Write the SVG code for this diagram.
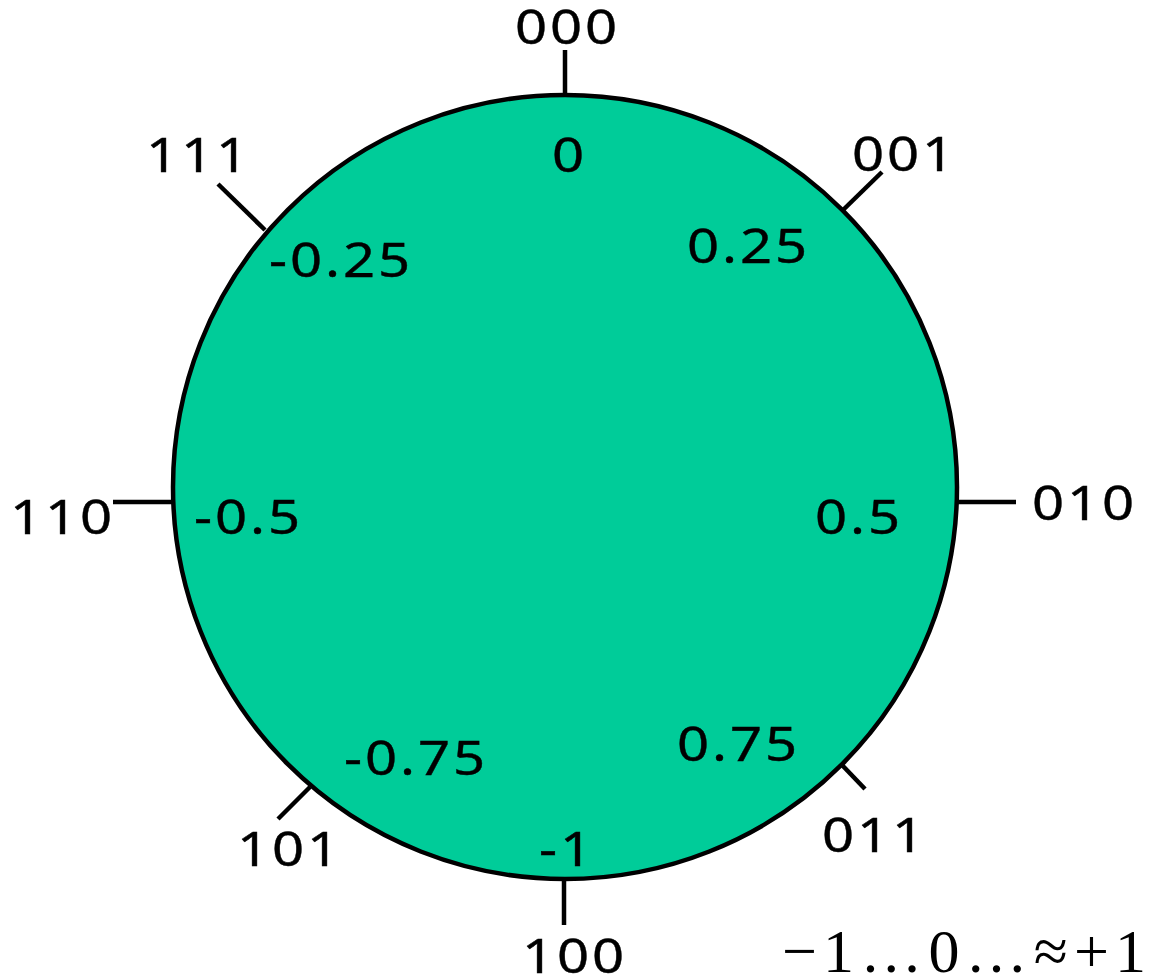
<svg xmlns="http://www.w3.org/2000/svg" width="1156" height="979" viewBox="0 0 1156 979">
<style>
.t{font-family:"Noto Sans","Open Sans",sans-serif;font-size:48px;fill:#000;letter-spacing:2.5px;stroke:#000;stroke-width:0.4}
.k{stroke:#000;stroke-width:4.5;fill:none}
.m{font-family:"Liberation Serif","Times New Roman",serif;font-size:62px;fill:#000}
</style>
<rect width="1156" height="979" fill="#fff"/>
<g id="wheel">
<circle cx="565" cy="487" r="392" fill="#00CC99" stroke="#000" stroke-width="4.5"/>
</g>
<g id="connectors">
<line class="k" x1="565" y1="50" x2="565" y2="93"/>
<line class="k" x1="218" y1="184" x2="265" y2="230"/>
<line class="k" x1="882" y1="172" x2="842" y2="211"/>
<line class="k" x1="113" y1="502" x2="173" y2="502"/>
<line class="k" x1="957" y1="502" x2="1016" y2="502"/>
<line class="k" x1="310" y1="787" x2="278" y2="819"/>
<line class="k" x1="842" y1="765" x2="865" y2="789"/>
<line class="k" x1="564" y1="880" x2="564" y2="925"/>
</g>
<g id="n000"><text class="t" transform="translate(515,44) scale(1.17,1)">000</text></g>
<g id="v0"><text class="t" transform="translate(552,172) scale(1.17,1)">0</text></g>
<g id="n111"><text class="t" transform="translate(146,172) scale(1.17,1)">111</text></g>
<g id="vm025"><text class="t" transform="translate(269,277) scale(1.17,1)">-0.25</text></g>
<g id="n001"><text class="t" transform="translate(852,171) scale(1.17,1)">001</text></g>
<g id="v025"><text class="t" transform="translate(687,263) scale(1.17,1)">0.25</text></g>
<g id="n110"><text class="t" transform="translate(10,534) scale(1.17,1)">110</text></g>
<g id="vm05"><text class="t" transform="translate(194,534) scale(1.17,1)">-0.5</text></g>
<g id="v05"><text class="t" transform="translate(815,534) scale(1.17,1)">0.5</text></g>
<g id="n010"><text class="t" transform="translate(1032,520) scale(1.17,1)">010</text></g>
<g id="vm075"><text class="t" transform="translate(344,775) scale(1.17,1)">-0.75</text></g>
<g id="v075"><text class="t" transform="translate(677,761) scale(1.17,1)">0.75</text></g>
<g id="n101"><text class="t" transform="translate(237,866) scale(1.17,1)">101</text></g>
<g id="n011"><text class="t" transform="translate(822,852) scale(1.17,1)">011</text></g>
<g id="vm1"><text class="t" transform="translate(539,866) scale(1.17,1)">-1</text></g>
<g id="n100"><text class="t" transform="translate(522,973) scale(1.17,1)">100</text></g>
<g id="range"><text class="m" x="782" y="972" textLength="364" lengthAdjust="spacing">−1…0…≈+1</text></g>
</svg>
